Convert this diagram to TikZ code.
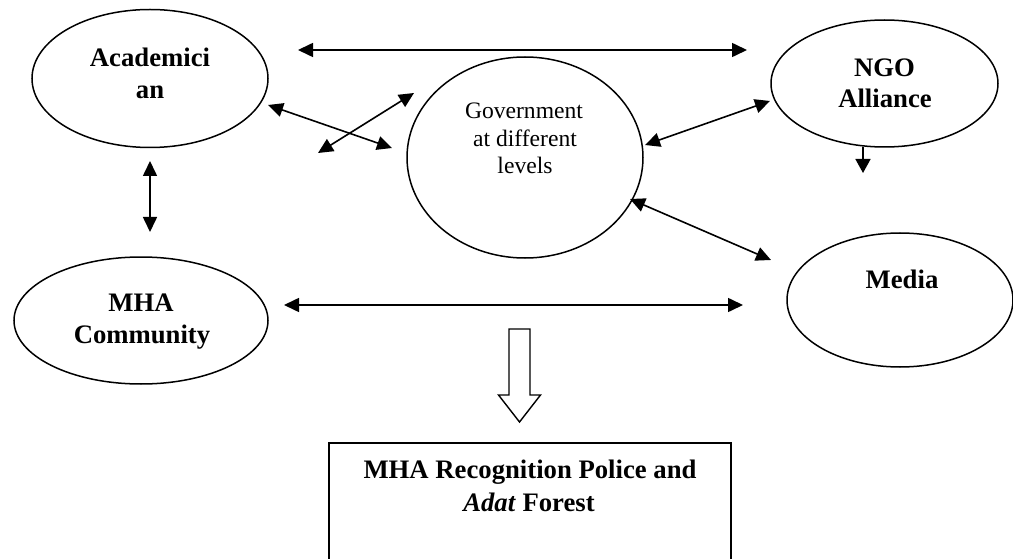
\documentclass[tikz,border=0pt]{standalone}
\usepackage{fontspec}
\setmainfont{Liberation Serif}
\usetikzlibrary{shapes.geometric,arrows.meta}
\tikzset{
  blob/.style={draw, ellipse, line width=1.5pt, inner sep=0pt},
  lbl/.style={anchor=base, inner sep=0pt, font=\fontsize{26.7}{32}\selectfont\bfseries},
  glbl/.style={anchor=base, inner sep=0pt, font=\fontsize{23.6}{27.5}\selectfont},
  link/.style={line width=1.6pt, {Triangle[length=15pt,width=14pt]}-{Triangle[length=15pt,width=14pt]}},
  onelink/.style={line width=1.6pt, -{Triangle[length=14pt,width=15pt]}},
}
\begin{document}
\begin{tikzpicture}[x=1pt,y=-1pt]
\useasboundingbox (0,0) rectangle (1013,559);
% ellipses
\node[blob, minimum width=236pt, minimum height=138pt] (acad) at (150,78.5) {};
\node[blob, minimum width=236pt, minimum height=201pt] (gov) at (525,157.5) {};
\node[blob, minimum width=227pt, minimum height=127pt] (ngo) at (884.5,83.5) {};
\node[blob, minimum width=226pt, minimum height=134pt] (media) at (900,300) {};
\node[blob, minimum width=254pt, minimum height=127pt] (mha) at (141,320.5) {};
% labels
\node[lbl] (acadA) at (150,67) {Academici};
\node[lbl] (acadB) at (150,99) {an};
\node[glbl] (govA) at (524,119) {Government};
\node[glbl] (govB) at (525,147) {at different};
\node[glbl] (govC) at (525,174) {levels};
\node[lbl] (ngoA) at (884.5,77) {NGO};
\node[lbl] (ngoB) at (885,108) {Alliance};
\node[lbl] (mhaA) at (141,311) {MHA};
\node[lbl] (mhaB) at (142,343) {Community};
\node[lbl] (mediaA) at (902,288) {Media};
% result box (its lower edge lies below the picture)
\draw[line width=1.5pt] (329,443) rectangle (731,566);
\node[lbl] (boxA) at (530,478) {MHA Recognition Police and};
\node[lbl] (boxB) at (529,511) {\textit{Adat} Forest};
% connector end points
\coordinate (t1) at (298,50);
\coordinate (t2) at (747,50);
\coordinate (ag1) at (268,105);
\coordinate (ag2) at (392,148);
\coordinate (x1) at (318,153);
\coordinate (x2) at (414,93);
\coordinate (gn1) at (645,145);
\coordinate (gn2) at (770,101);
\coordinate (gm1) at (630,199);
\coordinate (gm2) at (771,260);
\coordinate (mm1) at (284,305);
\coordinate (mm2) at (743,305);
\coordinate (v1) at (150,161);
\coordinate (v2) at (150,232);
\coordinate (nd1) at (863,147);
\coordinate (nd2) at (863,173);
% connectors
\draw[link] (t1) -- (t2);
\draw[link] (ag1) -- (ag2);
\draw[link] (x1) -- (x2);
\draw[link] (gn1) -- (gn2);
\draw[link] (gm1) -- (gm2);
\draw[link] (mm1) -- (mm2);
\draw[link] (v1) -- (v2);
\draw[onelink] (nd1) -- (nd2);
% hollow arrow
\draw[line width=1.4pt, fill=white] (509,329) -- (530,329) -- (530,395) -- (540.5,395) -- (519.5,422) -- (498.5,395) -- (509,395) -- cycle;
\end{tikzpicture}
\end{document}
